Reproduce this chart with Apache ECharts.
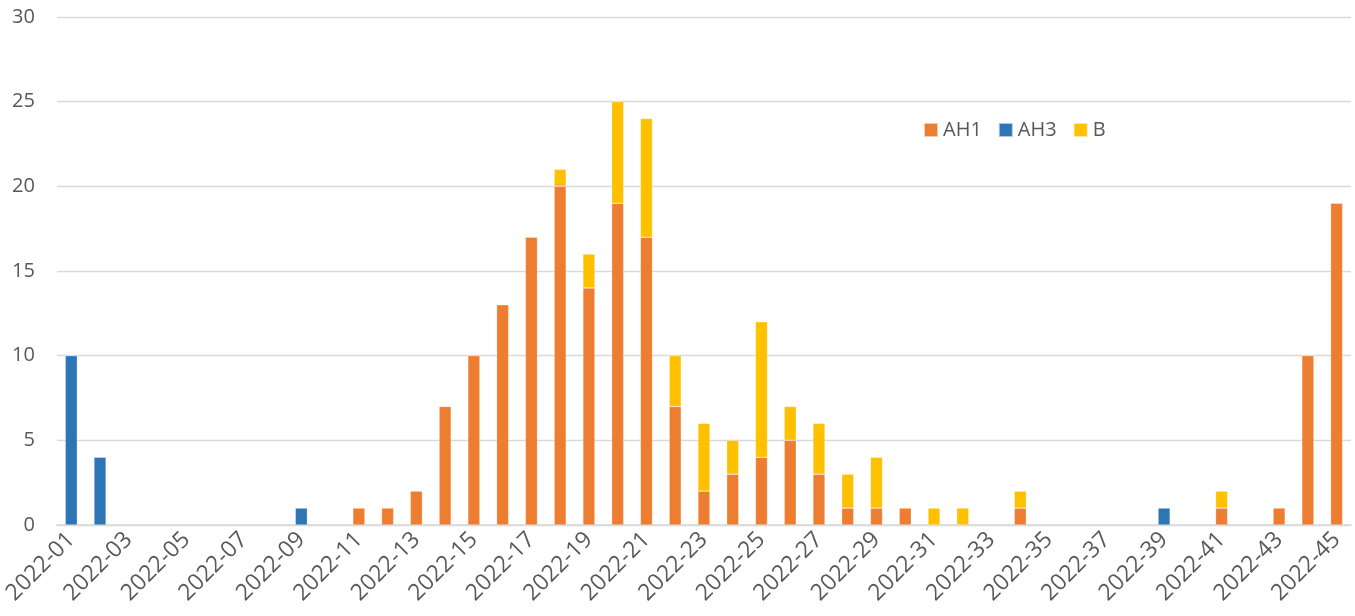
<!DOCTYPE html>
<html><head><meta charset="utf-8">
<script src="https://cdn.jsdelivr.net/npm/echarts@6/dist/echarts.min.js"></script>
<style>html,body{margin:0;padding:0;background:#fff}#c{width:1355px;height:616px}</style>
</head><body><div id="c"></div>
<script>
const weeks = [];
for (let i = 1; i <= 45; i++) weeks.push('2022-' + String(i).padStart(2, '0'));
const AH1 = [0,0,0,0,0,0,0,0,0,0, 1,1,2,7,10,13,17,20,14,19, 17,7,2,3,4,5,3,1,1,1, 0,0,0,1,0,0,0,0,0,0, 1,0,1,10,19];
const AH3 = [10,4,0,0,0,0,0,0,1,0, 0,0,0,0,0,0,0,0,0,0, 0,0,0,0,0,0,0,0,0,0, 0,0,0,0,0,0,0,0,1,0, 0,0,0,0,0];
const B   = [0,0,0,0,0,0,0,0,0,0, 0,0,0,0,0,0,0,1,2,6, 7,3,4,2,8,2,3,2,3,0, 1,1,0,1,0,0,0,0,0,0, 1,0,0,0,0];
const yTicks = [0,5,10,15,20,25,30];

const chart = echarts.init(document.getElementById('c'));
const mk = (name, data, color) => ({
  name, type: 'bar', stack: 'all', data: data.map(v => v === 0 ? null : v),
  barWidth: 12,
  itemStyle: { color, borderColor: 'rgba(255,255,255,0.6)', borderWidth: 0.5 }
});
chart.setOption({
  animation: false,
  textStyle: { fontFamily: 'Open Sans, sans-serif' },
  grid: { left: 56, right: 4, top: 17, bottom: 91, containLabel: false },
  legend: {
    data: ['AH1','AH3','B'], left: 918, top: 115, icon: 'rect',
    itemWidth: 14, itemHeight: 14, itemGap: 16,
    textStyle: { fontSize: 20, color: '#595959', fontFamily: 'Open Sans, sans-serif' }
  },
  xAxis: {
    type: 'category', data: weeks,
    axisLine: { lineStyle: { color: '#d9d9d9', width: 1.5 } },
    axisTick: { show: false },
    axisLabel: { interval: 1, rotate: 45, fontSize: 23, color: '#595959', margin: 11, fontFamily: 'Open Sans, sans-serif' }
  },
  yAxis: {
    type: 'value', min: yTicks[0], max: yTicks[yTicks.length-1], interval: 5,
    axisLine: { show: false }, axisTick: { show: false },
    axisLabel: { fontSize: 20, color: '#595959', margin: 22, fontFamily: 'Open Sans, sans-serif' },
    splitLine: { lineStyle: { color: '#d9d9d9', width: 1.3 } }
  },
  series: [mk('AH1', AH1, '#ED7D31'), mk('AH3', AH3, '#2E75B6'), mk('B', B, '#FFC000')]
});
</script></body></html>
